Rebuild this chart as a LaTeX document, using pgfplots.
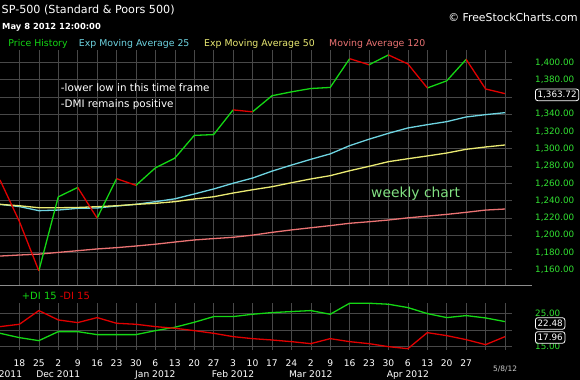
\documentclass[border=0pt]{standalone}
\usepackage{fontspec}
\setmainfont{DejaVu Sans}
\usepackage{pgfplots}
\pgfplotsset{compat=1.18}
\definecolor{gridc}{RGB}{72,72,72}
\definecolor{sepc}{RGB}{140,140,140}
\definecolor{labg}{RGB}{50,225,50}
\definecolor{pgreen}{RGB}{20,215,20}
\definecolor{pred}{RGB}{225,0,0}
\definecolor{ema25}{RGB}{110,212,225}
\definecolor{ema50}{RGB}{235,235,115}
\definecolor{ma120}{RGB}{235,115,115}
\definecolor{wkc}{RGB}{130,225,130}
\begin{document}
\begin{tikzpicture}
\fill[black] (0bp,0bp) rectangle (580bp,380bp);
\useasboundingbox (0bp,0bp) rectangle (580bp,380bp);
% main price panel
\begin{axis}[
  at={(0bp,95bp)}, anchor=south west, scale only axis,
  width=512bp, height=235bp,
  xmin=0, xmax=26.36, ymin=1142.3, ymax=1414.2,
  axis line style={draw=none}, major tick length=0pt,
  xtick={1,...,26}, xticklabels={},
  ytick={1160,1180,...,1400},
  yticklabel pos=right,
  yticklabels={{1,160.00},{1,180.00},{1,200.00},{1,220.00},{1,240.00},{1,260.00},{1,280.00},{1,300.00},{1,320.00},{1,340.00},{},{1,380.00},{1,400.00}},
  yticklabel style={anchor=west, inner sep=0pt, xshift=23bp, font=\fontsize{8.8}{10}\selectfont, text=labg},
  grid=major, major grid style={color=gridc, line width=0.5bp},
  unbounded coords=jump, clip=false,
  every axis plot/.append style={line width=1.3bp, line join=round},
]
\addplot[ma120] coordinates {(0,1175.8)(1,1177)(2,1178)(3,1180)(4,1182)(5,1184)(6,1185.5)(7,1187.4)(8,1189.5)(9,1192)(10,1194.4)(11,1196)(12,1197.5)(13,1200)(14,1203.2)(15,1206)(16,1208.5)(17,1211)(18,1213.7)(19,1215.5)(20,1217.5)(21,1220)(22,1222)(23,1224)(24,1226.4)(25,1229)(26,1230.2)};
\addplot[ema25] coordinates {(0,1235.6)(1,1233)(2,1228.3)(3,1229)(4,1231)(5,1231.4)(6,1233.7)(7,1235.6)(8,1238.7)(9,1242)(10,1247.6)(11,1253.4)(12,1260)(13,1266)(14,1274)(15,1281)(16,1287.7)(17,1294)(18,1303.5)(19,1311)(20,1317.8)(21,1324)(22,1327.8)(23,1331.3)(24,1336.7)(25,1339.4)(26,1341.7)};
\addplot[ema50] coordinates {(0,1235.6)(1,1234)(2,1231.7)(3,1231.7)(4,1232)(5,1232.9)(6,1234)(7,1235.6)(8,1236.8)(9,1238.7)(10,1241.8)(11,1244.4)(12,1248.7)(13,1252.5)(14,1256)(15,1260.6)(16,1265)(17,1268.8)(18,1274.5)(19,1279.6)(20,1285)(21,1288.4)(22,1291.6)(23,1295)(24,1299.3)(25,1302)(26,1304.3)};
% price: rising weeks green
\addplot[pgreen] coordinates {(2,1158.67)(3,1244.28)(4,1255.19) (4,nan) (5,1219.66)(6,1265.33) (6,nan) (7,1257.60)(8,1277.81)(9,1289.09)(10,1315.38)(11,1316.33)(12,1344.90) (12,nan) (13,1342.64)(14,1361.23)(15,1365.74)(16,1369.63)(17,1370.87)(18,1404.17) (18,nan) (19,1397.11)(20,1408.47) (20,nan) (22,1370.26)(23,1378.53)(24,1403.36)};
% price: falling weeks red
\addplot[pred] coordinates {(0,1263.85)(1,1215.65)(2,1158.67) (2,nan) (4,1255.19)(5,1219.66) (5,nan) (6,1265.33)(7,1257.60) (7,nan) (12,1344.90)(13,1342.64) (13,nan) (18,1404.17)(19,1397.11) (19,nan) (20,1408.47)(21,1398.08)(22,1370.26) (22,nan) (24,1403.36)(25,1369.10)(26,1363.72)};
\end{axis}
\draw[sepc, line width=0.8bp] (0bp,95bp) -- (532bp,95bp);
% DMI panel
\begin{axis}[
  at={(0bp,30bp)}, anchor=south west, scale only axis,
  width=512bp, height=47.1bp,
  xmin=0, xmax=26.36, ymin=14, ymax=28.1,
  axis line style={draw=none}, major tick length=0pt,
  xtick={1,...,26},
  xticklabels={18,25,2,9,16,23,30,6,13,20,27,3,10,17,24,2,9,16,23,30,6,13,20,27,{},{}},
  xticklabel style={anchor=base, inner sep=0pt, yshift=-16.7bp, font=\fontsize{9.2}{10}\selectfont, text=white},
  ytick={15,20,25}, yticklabels={15.00,{},25.00},
  yticklabel pos=right,
  yticklabel style={anchor=west, inner sep=0pt, xshift=23bp, font=\fontsize{8.8}{10}\selectfont, text=labg},
  grid=major, major grid style={color=gridc, line width=0.5bp},
  clip=false,
  every axis plot/.append style={line width=1.3bp, line join=round},
]
\addplot[pgreen] coordinates {(0,19.0)(1,17.7)(2,16.8)(3,19.5)(4,19.5)(5,18.6)(6,18.6)(7,18.6)(8,19.8)(9,20.8)(10,22.3)(11,24)(12,24)(13,24.7)(14,25.2)(15,25.5)(16,25.8)(17,24.7)(18,28)(19,28)(20,27.7)(21,26.7)(22,24.9)(23,23.7)(24,24.3)(25,23.6)(26,22.5)};
\addplot[pred] coordinates {(0,21)(1,21.7)(2,25.8)(3,23)(4,22.2)(5,23.7)(6,22)(7,21.7)(8,21)(9,20.5)(10,19.8)(11,19)(12,18)(13,17.4)(14,17)(15,16.5)(16,15.9)(17,17.4)(18,16.5)(19,15.9)(20,15)(21,14.4)(22,19.2)(23,18.3)(24,17.1)(25,15.6)(26,18.0)};
\begin{scope}[every node/.style={anchor=base, inner sep=0pt, text=white, font=\fontsize{9.2}{10}\selectfont}]
\node at (axis cs:0.54,14) [yshift=-27.3bp] {2011};
\node at (axis cs:3,14) [yshift=-27.3bp] {Dec 2011};
\node at (axis cs:8,14) [yshift=-27.3bp] {Jan 2012};
\node at (axis cs:12,14) [yshift=-27.3bp] {Feb 2012};
\node at (axis cs:16,14) [yshift=-27.3bp] {Mar 2012};
\node at (axis cs:21,14) [yshift=-27.3bp] {Apr 2012};
\end{scope}
\end{axis}
% texts
\node[anchor=base west, inner sep=0pt, text=white, font=\fontsize{11.2}{13}\selectfont] at (1.5bp,366.5bp) {SP-500 (Standard \& Poors 500)};
\node[anchor=base west, inner sep=0pt, text=white, font=\bfseries\fontsize{8.4}{10}\selectfont] at (2bp,350.7bp) {May 8 2012 12:00:00};
\node[anchor=base east, inner sep=0pt, text=white, font=\fontsize{10.9}{13}\selectfont] at (578bp,358.5bp) {© FreeStockCharts.com};
\begin{scope}[every node/.style={anchor=base west, inner sep=0pt, font=\fontsize{9.4}{11}\selectfont}]
\node[text=pgreen] at (8.3bp,333.8bp) {Price History};
\node[text=ema25] at (78.7bp,333.8bp) {Exp Moving Average 25};
\node[text=ema50] at (204bp,333.8bp) {Exp Moving Average 50};
\node[text=ma120] at (329bp,333.8bp) {Moving Average 120};
\end{scope}
\node[anchor=base west, inner sep=0pt, text=white, font=\fontsize{10.4}{12}\selectfont] at (60.7bp,288.5bp) {-lower low in this time frame};
\node[anchor=base west, inner sep=0pt, text=white, font=\fontsize{10.4}{12}\selectfont] at (60.7bp,272.7bp) {-DMI remains positive};
\node[anchor=base west, inner sep=0pt, text=wkc, font=\fontsize{13.9}{16}\selectfont] at (371bp,182.7bp) {weekly chart};
\node[anchor=base west, inner sep=0pt, font=\fontsize{10}{12}\selectfont] at (21.7bp,80.7bp) {\textcolor{pgreen}{+DI 15} \textcolor{pred}{-DI 15}};
\node[anchor=base west, inner sep=0pt, text=white!80!black, font=\fontsize{7.5}{9}\selectfont] at (493bp,8.3bp) {5/8/12};
% value boxes
\begin{scope}[every node/.style={anchor=west, draw=white, fill=black, text=white, rounded corners=2.5bp, line width=0.8bp, inner xsep=2.2bp, inner ysep=0pt, minimum height=11.6bp, font=\fontsize{8.8}{10}\selectfont}]
\node at (535bp,285.1bp) {1,363.72};
\node at (535bp,56.5bp) {22.48};
\node at (535bp,42.5bp) {17.96};
\end{scope}
\end{tikzpicture}
\end{document}
